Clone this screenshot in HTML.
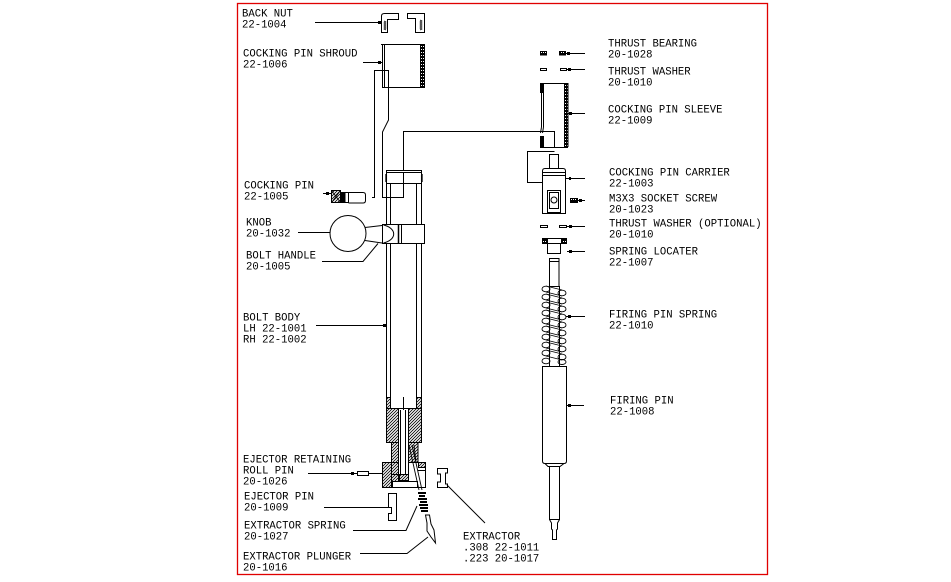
<!DOCTYPE html>
<html><head><meta charset="utf-8">
<style>
html,body{margin:0;padding:0;background:#fff;}
svg{display:block;}
text{font-family:"Liberation Mono",monospace;font-size:10.6px;fill:#000;}
</style></head>
<body>
<svg width="951" height="582" viewBox="0 0 951 582" xmlns="http://www.w3.org/2000/svg">
<defs>
<pattern id="h" width="3" height="3" patternUnits="userSpaceOnUse">
<rect width="3" height="3" fill="#fff"/>
<path d="M0,3 L3,0 M-1,1 L1,-1 M2,4 L4,2" stroke="#000" stroke-width="0.8"/>
</pattern>
<pattern id="d" width="2" height="3" patternUnits="userSpaceOnUse">
<rect width="2" height="3" fill="#000"/>
<rect x="1" y="1" width="1" height="1" fill="#fff"/>
</pattern>
</defs>
<rect x="0" y="0" width="951" height="582" fill="#fff"/>
<rect x="237.5" y="3.5" width="530" height="571" fill="none" stroke="#e00000" stroke-width="1.3"/>

<g fill="none" stroke="#000" stroke-width="1">
<!-- back nut -->
<path d="M381.5,32.5 L381.5,16 Q381.5,13.5 384.5,13.5 L398.5,13.5 L398.5,19.5 L387.5,19.5 L387.5,32.5 Z"/>
<path d="M384,21 l2,1 l-2,1 l2,1 l-2,1 l2,1 l-2,1 l2,1 l-2,1 l2,1" stroke-width="0.7"/>
<path d="M407.5,13.5 L424.5,13.5 L424.5,32.5 L415.5,32.5 L415.5,18.5 L407.5,18.5 Z"/>
<path d="M420,20 l2,1 l-2,1 l2,1 l-2,1 l2,1 l-2,1 l2,1 l-2,1 l2,1 l-2,1" stroke-width="0.7"/>
<line x1="315" y1="22.5" x2="381" y2="22.5"/>
<!-- shroud -->
<rect x="382.5" y="44.5" width="42" height="43"/>
<line x1="384.5" y1="44" x2="384.5" y2="88"/>
<line x1="381" y1="44.5" x2="383" y2="44.5"/>
<rect x="420.5" y="44.5" width="4" height="43" fill="url(#d)"/>
<line x1="363" y1="62.5" x2="382" y2="62.5"/>
<!-- long outline lines -->
<path d="M372,197.5 L374.5,197.5 L374.5,70.5 L388.5,70.5 L388.5,120 L382.5,132 L382.5,197.5 L403.5,197.5 L403.5,131.5 L554.5,131.5 L554.5,147"/>
<!-- bolt body top cap -->
<rect x="386.5" y="170.5" width="35" height="13" fill="#fff"/>
<line x1="386" y1="172.5" x2="422" y2="172.5"/>
<path d="M386.5,174 q-2,1 0,2 q-2,1 0,2 q-2,1 0,2 q-2,1 0,2" stroke-width="0.8"/>
<path d="M421.5,174 q2,1 0,2 q2,1 0,2 q2,1 0,2 q2,1 0,2" stroke-width="0.8"/>
<line x1="403.5" y1="172" x2="403.5" y2="197"/>
<!-- bolt body verticals -->
<line x1="386.5" y1="184" x2="386.5" y2="397"/>
<line x1="390.5" y1="184" x2="390.5" y2="408"/>
<line x1="416.5" y1="184" x2="416.5" y2="408"/>
<line x1="421.5" y1="184" x2="421.5" y2="397"/>
<line x1="390" y1="408.5" x2="417" y2="408.5"/>
<!-- handle -->
<rect x="382.5" y="224.5" width="42" height="19" fill="#fff"/>
<path d="M383.5,225 A15,9.5 0 0 1 383.5,243"/>
<line x1="398.5" y1="224.5" x2="398.5" y2="243.5" stroke-width="1.5"/>
<line x1="401.5" y1="224.5" x2="401.5" y2="243.5"/>
<circle cx="348" cy="233.5" r="18"/>
<line x1="365" y1="227.5" x2="382" y2="225.5"/>
<line x1="365" y1="240.5" x2="382" y2="243"/>
<line x1="298" y1="232.5" x2="330" y2="232.5"/>
<path d="M322,261.5 L363,261.5 L378,243.5"/>
<!-- cocking pin -->
<line x1="323" y1="193.5" x2="331" y2="193.5"/>
<rect x="331.5" y="190.5" width="9" height="12" fill="url(#h)"/>
<path d="M331.5,190.5 l9,12 M340.5,190.5 l-9,12" stroke-width="0.8"/>
<rect x="340.5" y="192.5" width="8" height="10"/>
<rect x="341" y="193" width="4" height="9" fill="#000"/>
<path d="M348.5,192.5 L363,192.5 Q365.5,192.5 365.5,195 L365.5,200.5 Q365.5,203 363,203 L348.5,203"/>
<!-- bolt body leader -->
<line x1="316" y1="325.5" x2="386" y2="325.5"/>
<!-- lower hatched -->
<rect x="386.5" y="397.5" width="4" height="11" fill="url(#h)"/>
<rect x="416.5" y="397.5" width="5" height="11" fill="url(#h)"/>
<rect x="386.5" y="408.5" width="12" height="34" fill="url(#h)"/>
<rect x="408.5" y="408.5" width="13" height="34" fill="url(#h)"/>
<rect x="391.5" y="442.5" width="7" height="20" fill="url(#h)"/>
<rect x="408.5" y="442.5" width="9.5" height="20" fill="url(#h)"/>
<rect x="382.5" y="462.5" width="9" height="25" fill="url(#h)"/>
<rect x="391.5" y="462.5" width="7" height="12" fill="url(#h)"/>
<rect x="418.5" y="462.5" width="7" height="5" fill="url(#h)"/>
<rect x="391.5" y="474.5" width="7" height="8" fill="url(#h)"/>
<rect x="399.5" y="474.5" width="9" height="6" fill="url(#h)"/>
<path d="M382.5,462.5 L382.5,487.5 L425.5,487.5 L425.5,462.5 L418,462.5"/>
<rect x="392.5" y="481.5" width="25" height="6" fill="#fff"/>
<line x1="398.5" y1="408" x2="398.5" y2="478"/>
<line x1="400.5" y1="410" x2="400.5" y2="475"/>
<line x1="405.5" y1="410" x2="405.5" y2="475"/>
<line x1="408.5" y1="408" x2="408.5" y2="478"/>
<line x1="403.5" y1="397" x2="403.5" y2="410"/>
<!-- extractor slot -->
<path d="M409,445 L419,490 M412,445 L422,490 M414,445 L416,462" stroke-width="0.9"/>
<line x1="418" y1="470.5" x2="425" y2="470.5"/>
<!-- roll pin -->
<line x1="308" y1="473.5" x2="357" y2="473.5"/>
<rect x="357.5" y="471.5" width="11" height="4"/>
<line x1="368" y1="473.5" x2="383" y2="473.5"/>
<!-- ejector pin -->
<path d="M388.5,493.5 L396.5,493.5 L396.5,520.5 L388.5,520.5 L388.5,513.5 L391.5,513.5 L391.5,507.5 L388.5,507.5 Z"/>
<line x1="324" y1="507.5" x2="388" y2="507.5"/>
<!-- extractor spring -->
<path d="M418,493 L426,493 M419,496 L425,496 M418,499 L427,499 M420,502 L427,502 M419,505 L428,505 M420,508 L428,508 M421,511 L428,511" stroke-width="2"/>
<path d="M353,530.5 L406,530.5 L417,506"/>
<!-- plunger -->
<path d="M425.5,515 L429.5,515 L431,524 L434,530 L435.5,543 L431,537 L427,531 L427,523 Z"/>
<path d="M360,553.5 L407,553.5 L428,537"/>
<!-- extractor -->
<path d="M437.5,468.5 L447.5,468.5 L447.5,473 L445.5,473 L445.5,484 L447.5,484 L447.5,487.5 L437.5,487.5 L437.5,482 L440.5,482 L440.5,474 L437.5,474 Z"/>
<line x1="447" y1="485" x2="485" y2="523"/>

<!-- RIGHT SIDE -->
<!-- thrust bearing -->
<rect x="540.5" y="51.5" width="6" height="3.5" fill="url(#d)"/>
<rect x="559.5" y="51.5" width="6" height="3.5" fill="url(#d)"/>
<line x1="566" y1="53.5" x2="585" y2="53.5"/>
<!-- thrust washer -->
<rect x="540.5" y="68.5" width="6" height="2"/>
<rect x="560.5" y="68.5" width="6" height="2"/>
<line x1="567" y1="69.5" x2="585" y2="69.5"/>
<!-- sleeve -->
<line x1="540" y1="83.5" x2="568" y2="83.5"/>
<rect x="564.5" y="83.5" width="3.5" height="63" fill="url(#d)"/>
<rect x="540" y="84" width="4" height="9" fill="#000" stroke="none"/>
<line x1="541.5" y1="93" x2="541.5" y2="127"/>
<line x1="543.5" y1="93" x2="543.5" y2="127"/>
<path d="M541.5,127 L540.5,133 M543.5,127 L542.5,133"/>
<rect x="540" y="136" width="4" height="11" fill="#000" stroke="none"/>
<line x1="540" y1="147.5" x2="568" y2="147.5"/>
<line x1="568" y1="113.5" x2="585" y2="113.5"/>
<!-- carrier outline line -->
<path d="M554.5,151.5 L527.5,151.5 L527.5,182.5 L543,182.5"/>
<!-- carrier -->
<rect x="549.5" y="154.5" width="9" height="14"/>
<path d="M542.5,213.5 L542.5,171 Q542.5,168.5 545,168.5 L563,168.5 Q565.5,168.5 565.5,171 L565.5,213.5 Z"/>
<line x1="542.5" y1="172.5" x2="565.5" y2="172.5"/>
<line x1="542.5" y1="175.5" x2="565.5" y2="175.5"/>
<rect x="547.5" y="190.5" width="13" height="22"/>
<rect x="549.5" y="192.5" width="9" height="16"/>
<circle cx="554" cy="200" r="3"/>
<line x1="566" y1="178.5" x2="585" y2="178.5"/>
<!-- screw -->
<rect x="570.5" y="198.5" width="7" height="4" fill="url(#d)"/>
<line x1="577" y1="200.5" x2="585" y2="200.5"/>
<!-- thrust washer optional -->
<rect x="540.5" y="225.5" width="7" height="2"/>
<rect x="559.5" y="225.5" width="7" height="2"/>
<line x1="567" y1="226.5" x2="585" y2="226.5"/>
<!-- spring locater -->
<rect x="542.5" y="238.5" width="24" height="5"/>
<rect x="542.5" y="238.5" width="5" height="5" fill="url(#d)"/>
<rect x="561.5" y="238.5" width="5" height="5" fill="url(#d)"/>
<rect x="547.5" y="243.5" width="13" height="10"/>
<line x1="567" y1="251.5" x2="585" y2="251.5"/>
<!-- firing pin rod top -->
<rect x="549.5" y="258.5" width="9.5" height="28"/>
<line x1="549.5" y1="261.5" x2="559" y2="261.5"/>
<!-- spring coils -->
<g stroke-width="0.9">
<ellipse cx="546" cy="289" rx="4" ry="2.8"/><ellipse cx="562" cy="293" rx="4" ry="2.8"/><line x1="546" y1="286" x2="562" y2="290"/><line x1="546" y1="292" x2="562" y2="296"/>
<ellipse cx="546" cy="297" rx="4" ry="2.8"/><ellipse cx="562" cy="301" rx="4" ry="2.8"/><line x1="546" y1="294" x2="562" y2="298"/><line x1="546" y1="300" x2="562" y2="304"/>
<ellipse cx="546" cy="305" rx="4" ry="2.8"/><ellipse cx="562" cy="309" rx="4" ry="2.8"/><line x1="546" y1="302" x2="562" y2="306"/><line x1="546" y1="308" x2="562" y2="312"/>
<ellipse cx="546" cy="313" rx="4" ry="2.8"/><ellipse cx="562" cy="317" rx="4" ry="2.8"/><line x1="546" y1="310" x2="562" y2="314"/><line x1="546" y1="316" x2="562" y2="320"/>
<ellipse cx="546" cy="321" rx="4" ry="2.8"/><ellipse cx="562" cy="325" rx="4" ry="2.8"/><line x1="546" y1="318" x2="562" y2="322"/><line x1="546" y1="324" x2="562" y2="328"/>
<ellipse cx="546" cy="329" rx="4" ry="2.8"/><ellipse cx="562" cy="333" rx="4" ry="2.8"/><line x1="546" y1="326" x2="562" y2="330"/><line x1="546" y1="332" x2="562" y2="336"/>
<ellipse cx="546" cy="337" rx="4" ry="2.8"/><ellipse cx="562" cy="341" rx="4" ry="2.8"/><line x1="546" y1="334" x2="562" y2="338"/><line x1="546" y1="340" x2="562" y2="344"/>
<ellipse cx="546" cy="345" rx="4" ry="2.8"/><ellipse cx="562" cy="349" rx="4" ry="2.8"/><line x1="546" y1="342" x2="562" y2="346"/><line x1="546" y1="348" x2="562" y2="352"/>
<ellipse cx="546" cy="353" rx="4" ry="2.8"/><ellipse cx="562" cy="357" rx="4" ry="2.8"/><line x1="546" y1="350" x2="562" y2="354"/><line x1="546" y1="356" x2="562" y2="360"/>
<ellipse cx="546" cy="361" rx="4" ry="2.8"/><ellipse cx="562" cy="362" rx="4" ry="2.5"/>
</g>
<line x1="549.5" y1="286" x2="549.5" y2="366"/>
<line x1="559.5" y1="286" x2="559.5" y2="366"/>
<line x1="566" y1="316.5" x2="585" y2="316.5"/>
<!-- firing pin -->
<path d="M542.5,366.5 L566.5,366.5 L566.5,461 Q566.5,463.5 564,463.5 L545,463.5 Q542.5,463.5 542.5,461 Z"/>
<path d="M545,463.5 L548,466.5 L560,466.5 L564,463.5"/>
<path d="M549.5,466.5 L549.5,519.5 L559.5,519.5 L559.5,466.5"/>
<path d="M549.5,519.5 L551.5,523 L551.5,529 L552.5,530 L552.5,539.5 L556.5,539.5 L556.5,530 L557.5,529 L557.5,523 L559.5,519.5"/>
<line x1="567" y1="405.5" x2="584" y2="405.5"/>
</g>
<!-- leader dots -->
<g fill="#000">
<rect x="378" y="21" width="3" height="3"/>
<rect x="378" y="61" width="3" height="3"/>
<rect x="383" y="324" width="3" height="3"/>
<rect x="326" y="192" width="3" height="3"/>
<rect x="351" y="472" width="3" height="3"/>
<rect x="567" y="52" width="3" height="3"/>
<rect x="568" y="68" width="3" height="3"/>
<rect x="569" y="112" width="3" height="3"/>
<rect x="569" y="177" width="2" height="3"/>
<rect x="579" y="199" width="3" height="3"/>
<rect x="569" y="225" width="3" height="3"/>
<rect x="569" y="250" width="3" height="3"/>
<rect x="568" y="315" width="3" height="3"/>
<rect x="568" y="404" width="3" height="3"/>
</g>

<!-- LABELS -->
<text x="242" y="16.5">BACK NUT</text>
<text x="242" y="27.5">22-1004</text>
<text x="243" y="56.5">COCKING PIN SHROUD</text>
<text x="243" y="67.5">22-1006</text>
<text x="244" y="188.5">COCKING PIN</text>
<text x="244" y="199.5">22-1005</text>
<text x="246" y="225.5">KNOB</text>
<text x="246" y="236.5">20-1032</text>
<text x="246" y="258.5">BOLT HANDLE</text>
<text x="246" y="269.5">20-1005</text>
<text x="243" y="320.5">BOLT BODY</text>
<text x="243" y="331.5">LH 22-1001</text>
<text x="243" y="342.5">RH 22-1002</text>
<text x="243" y="462.5">EJECTOR RETAINING</text>
<text x="243" y="473.5">ROLL PIN</text>
<text x="243" y="484.5">20-1026</text>
<text x="244" y="499.5">EJECTOR PIN</text>
<text x="244" y="510.5">20-1009</text>
<text x="244" y="528.5">EXTRACTOR SPRING</text>
<text x="244" y="539.5">20-1027</text>
<text x="243" y="559.5">EXTRACTOR PLUNGER</text>
<text x="243" y="570.5">20-1016</text>
<text x="463" y="539.5">EXTRACTOR</text>
<text x="463" y="550.5">.308 22-1011</text>
<text x="463" y="561.5">.223 20-1017</text>

<text x="608" y="46.5">THRUST BEARING</text>
<text x="608" y="57.5">20-1028</text>
<text x="608" y="74.5">THRUST WASHER</text>
<text x="608" y="85.5">20-1010</text>
<text x="608" y="112.5">COCKING PIN SLEEVE</text>
<text x="608" y="123.5">22-1009</text>
<text x="609" y="175.5">COCKING PIN CARRIER</text>
<text x="609" y="186.5">22-1003</text>
<text x="609" y="201.5">M3X3 SOCKET SCREW</text>
<text x="609" y="212.5">20-1023</text>
<text x="609" y="226.5">THRUST WASHER (OPTIONAL)</text>
<text x="609" y="237.5">20-1010</text>
<text x="609" y="254.5">SPRING LOCATER</text>
<text x="609" y="265.5">22-1007</text>
<text x="609" y="317.5">FIRING PIN SPRING</text>
<text x="609" y="328.5">22-1010</text>
<text x="610" y="403.5">FIRING PIN</text>
<text x="610" y="414.5">22-1008</text>
</svg>
</body></html>
